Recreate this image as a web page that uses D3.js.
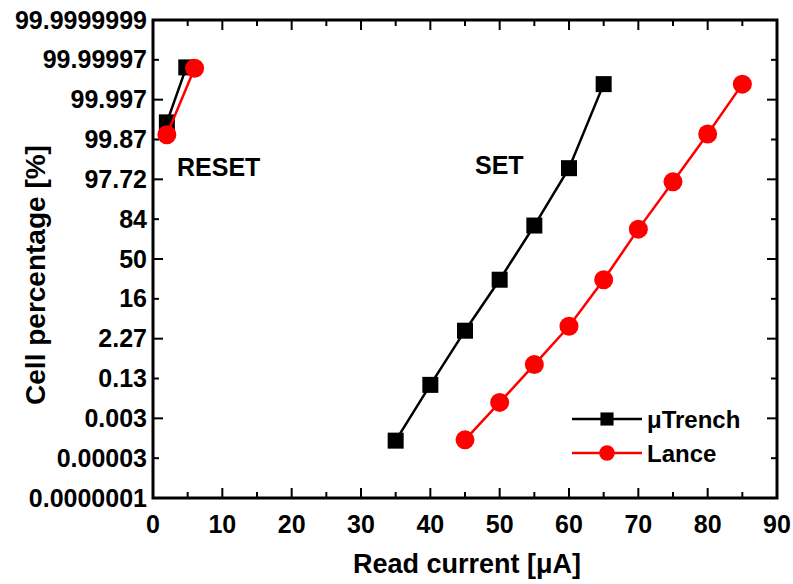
<!DOCTYPE html>
<html>
<head>
<meta charset="utf-8">
<script src="https://cdn.jsdelivr.net/npm/d3@7"></script>
<style>
  body { margin: 0; background: #fff; }
  #main-diagram { width: 793px; height: 584px; }
  text { font-family: "Liberation Sans", Arial, sans-serif; font-weight: bold; fill: #000; }
</style>
</head>
<body>
<div id="main-diagram"></div>
<script>
// probability axis: values are kept in sigma units (normal quantile), labels in percent
const yTickSigma = [-6, -5, -4, -3, -2, -1, 0, 1, 2, 3, 4, 5, 6];
const yTickLabels = ["0.0000001", "0.00003", "0.003", "0.13", "2.27", "16", "50",
  "84", "97.72", "99.87", "99.997", "99.99997", "99.9999999"];
const xTicks = [0, 10, 20, 30, 40, 50, 60, 70, 80, 90];

const trenchSetCurrent = [35, 40, 45, 50, 55, 60, 65];
const trenchSetSigma = [-4.56, -3.16, -1.8, -0.52, 0.84, 2.28, 4.39];
const lanceSetCurrent = [45, 50, 55, 60, 65, 70, 75, 80, 85];
const lanceSetSigma = [-4.54, -3.6, -2.65, -1.69, -0.52, 0.75, 1.94, 3.14, 4.39];
const trenchResetCurrent = [2, 4.8];
const trenchResetSigma = [3.43, 4.81];
const lanceResetCurrent = [2, 6];
const lanceResetSigma = [3.12, 4.79];

const seriesNames = ["\u03bcTrench", "Lance"];
const seriesColours = ["#000000", "#ff0000"];

const width = 793;
const height = 584;
const plot = { left: 153, right: 777, top: 20, bottom: 498 };

const svg = d3.select("#main-diagram")
  .append("svg")
  .attr("width", width)
  .attr("height", height);

const x = d3.scaleLinear().domain([0, 90]).range([plot.left, plot.right]);
const y = d3.scaleLinear().domain([-6, 6]).range([plot.bottom, plot.top]);

drawAxes();
drawSeries(trenchSetCurrent, trenchSetSigma, 0);
drawSeries(trenchResetCurrent, trenchResetSigma, 0);
drawSeries(lanceSetCurrent, lanceSetSigma, 1);
drawSeries(lanceResetCurrent, lanceResetSigma, 1);
drawLegend();

// labels inside the plot
svg.append("text").attr("x", 177).attr("y", 176).style("font-size", "25px").text("RESET");
svg.append("text").attr("x", 475).attr("y", 174).style("font-size", "25px").text("SET");

function drawAxes() {
  // ticks point inward on all four sides
  const xMajor = 10, xMinor = 6;
  const xAll = d3.range(0, 91, 5);
  const sigmaAll = d3.range(-6, 6.01, 1);

  const ticks = svg.append("g").attr("stroke", "#000").attr("stroke-width", 2);
  xAll.forEach(function (v) {
    const len = v % 10 === 0 ? xMajor : xMinor;
    ticks.append("line").attr("x1", x(v)).attr("x2", x(v))
      .attr("y1", plot.bottom).attr("y2", plot.bottom - len);
    ticks.append("line").attr("x1", x(v)).attr("x2", x(v))
      .attr("y1", plot.top).attr("y2", plot.top + len);
  });
  sigmaAll.forEach(function (s) {
    // every second sigma gets a long tick
    const len = s % 2 === 0 ? xMajor : xMinor;
    ticks.append("line").attr("y1", y(s)).attr("y2", y(s))
      .attr("x1", plot.left).attr("x2", plot.left + len);
    ticks.append("line").attr("y1", y(s)).attr("y2", y(s))
      .attr("x1", plot.right).attr("x2", plot.right - len);
  });

  // frame
  svg.append("rect")
    .attr("x", plot.left).attr("y", plot.top)
    .attr("width", plot.right - plot.left)
    .attr("height", plot.bottom - plot.top)
    .attr("fill", "none").attr("stroke", "#000").attr("stroke-width", 3);

  svg.selectAll(".xlabel").data(xTicks).enter().append("text")
    .attr("class", "xlabel")
    .attr("x", function (d) { return x(d); })
    .attr("y", 533)
    .attr("text-anchor", "middle")
    .style("font-size", "25px")
    .text(function (d) { return d; });

  svg.selectAll(".ylabel").data(yTickSigma).enter().append("text")
    .attr("class", "ylabel")
    .attr("x", 147)
    .attr("y", function (d) { return y(d) + 8.5; })
    .attr("text-anchor", "end")
    .style("font-size", "25px")
    .text(function (d, i) { return yTickLabels[i]; });

  svg.append("text")
    .attr("x", (plot.left + plot.right) / 2 + 2)
    .attr("y", 573)
    .attr("text-anchor", "middle")
    .style("font-size", "27px")
    .text("Read current [\u03bcA]");

  svg.append("text")
    .attr("text-anchor", "middle")
    .attr("transform", "translate(45,275) rotate(-90)")
    .style("font-size", "28px")
    .text("Cell percentage [%]");
}

function drawSeries(current, sigma, k) {
  const points = current.map(function (c, i) { return { x: c, s: sigma[i] }; });
  const colour = seriesColours[k];

  const line = d3.line()
    .x(function (d) { return x(d.x); })
    .y(function (d) { return y(d.s); });

  svg.append("path")
    .datum(points)
    .attr("d", line)
    .attr("fill", "none")
    .attr("stroke", colour)
    .attr("stroke-width", 2.5);

  drawMarkers(points.map(function (d) { return [x(d.x), y(d.s)]; }), k, 1);
}

function drawMarkers(xy, k, scale) {
  const colour = seriesColours[k];
  if (k === 0) {
    const size = 16 * scale;
    svg.selectAll(null).data(xy).enter().append("rect")
      .attr("x", function (d) { return d[0] - size / 2; })
      .attr("y", function (d) { return d[1] - size / 2; })
      .attr("width", size).attr("height", size)
      .attr("fill", colour);
  } else {
    svg.selectAll(null).data(xy).enter().append("circle")
      .attr("cx", function (d) { return d[0]; })
      .attr("cy", function (d) { return d[1]; })
      .attr("r", 9.5 * scale)
      .attr("fill", colour);
  }
}

function drawLegend() {
  const rows = [419, 453];
  seriesNames.forEach(function (name, k) {
    svg.append("line")
      .attr("x1", 572).attr("x2", 642)
      .attr("y1", rows[k]).attr("y2", rows[k])
      .attr("stroke", seriesColours[k]).attr("stroke-width", 2.5);
    drawMarkers([[607, rows[k]]], k, 0.82);
    svg.append("text")
      .attr("x", 647).attr("y", rows[k] + 8.5)
      .style("font-size", "24px")
      .text(name);
  });
}
</script>
</body>
</html>
